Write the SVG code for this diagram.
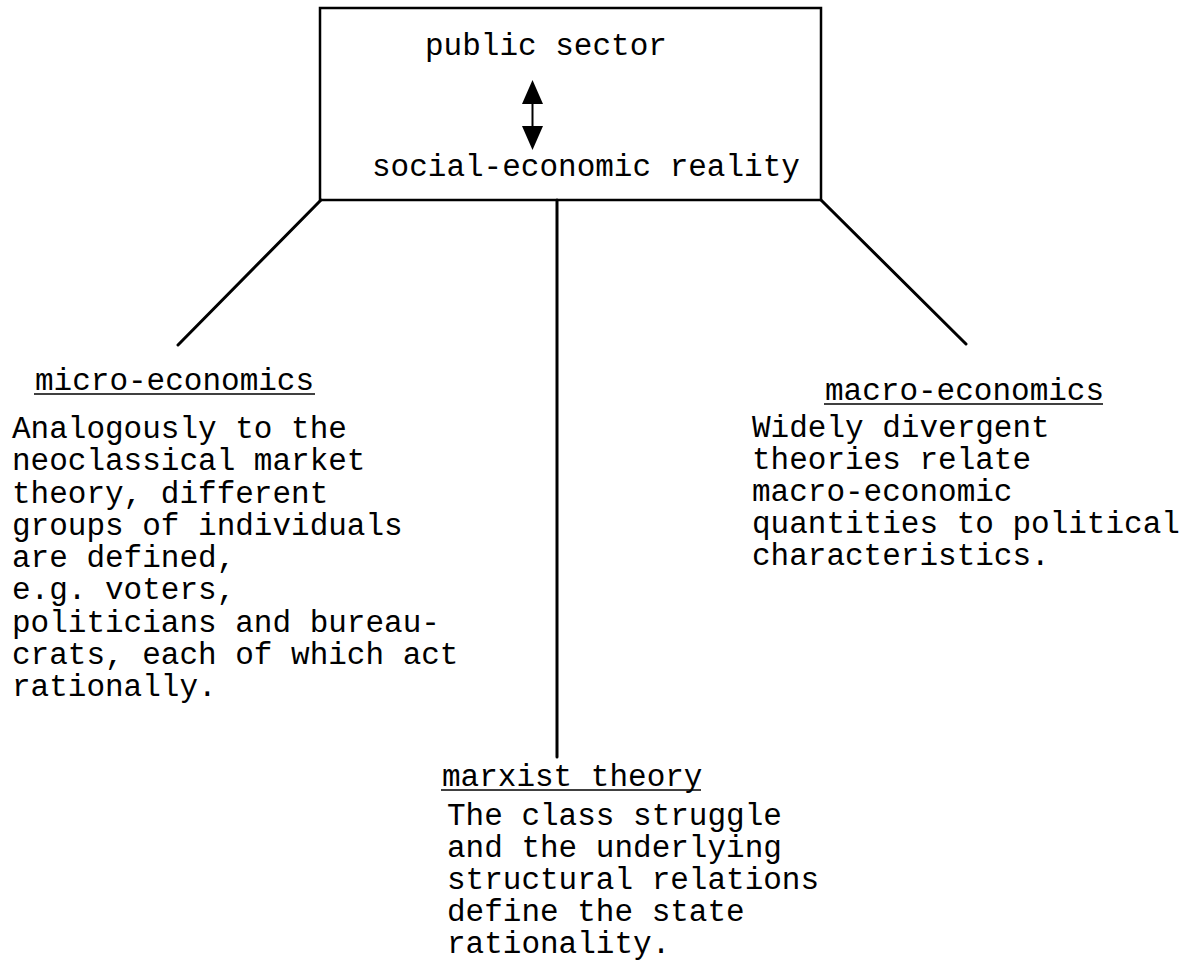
<svg xmlns="http://www.w3.org/2000/svg" width="1192" height="961" viewBox="0 0 1192 961">
<style>
text{font-family:"Liberation Mono","Courier New",monospace;font-size:31px;fill:#000}
.ln{stroke:#000;stroke-width:3;fill:none;stroke-linecap:round}
.ul{stroke:#000;stroke-width:1.6}
</style>
<rect width="1192" height="961" fill="#fff"/>
<g id="center">
<rect x="320" y="8" width="501" height="192" fill="none" stroke="#000" stroke-width="2.5"/>
<text x="425" y="55">public sector</text>
<text x="372" y="176">social-economic reality</text>
<line x1="532.5" y1="100" x2="532.5" y2="130" stroke="#000" stroke-width="2"/>
<polygon points="532.5,80 543,104 522,104" fill="#000"/>
<polygon points="522,126 543,126 532.5,150" fill="#000"/>
</g>
<g id="connectors">
<line class="ln" x1="321" y1="200" x2="178" y2="345"/>
<line class="ln" x1="557" y1="200" x2="557" y2="757"/>
<line class="ln" x1="821" y1="200" x2="966" y2="344"/>
</g>
<g id="micro">
<text x="35" y="390">micro-economics</text>
<line class="ul" x1="34" y1="394" x2="315" y2="394"/>
<text x="12" y="438">Analogously to the</text>
<text x="12" y="470">neoclassical market</text>
<text x="12" y="503">theory, different</text>
<text x="12" y="535">groups of individuals</text>
<text x="12" y="567">are defined,</text>
<text x="12" y="599">e.g. voters,</text>
<text x="12" y="632">politicians and bureau-</text>
<text x="12" y="664">crats, each of which act</text>
<text x="12" y="696">rationally.</text>
</g>
<g id="macro">
<text x="825" y="400">macro-economics</text>
<line class="ul" x1="824" y1="404" x2="1103" y2="404"/>
<text x="752" y="437">Widely divergent</text>
<text x="752" y="469">theories relate</text>
<text x="752" y="501">macro-economic</text>
<text x="752" y="533">quantities to political</text>
<text x="752" y="565">characteristics.</text>
</g>
<g id="marxist">
<text x="442" y="786">marxist theory</text>
<line class="ul" x1="441" y1="790" x2="701" y2="790"/>
<text x="447" y="825">The class struggle</text>
<text x="447" y="857">and the underlying</text>
<text x="447" y="889">structural relations</text>
<text x="447" y="921">define the state</text>
<text x="447" y="953">rationality.</text>
</g>
</svg>
